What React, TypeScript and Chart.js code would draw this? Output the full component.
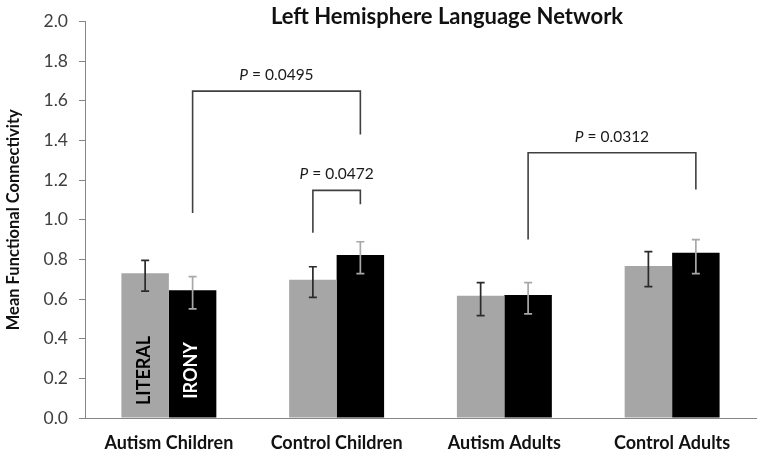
import React, { useEffect, useRef } from "react";
import { Chart, registerables } from "chart.js";

Chart.register(...registerables);

const categories = ["Autism Children", "Control Children", "Autism Adults", "Control Adults"];
const literalMeans = [0.73, 0.697, 0.617, 0.767];
const ironyMeans = [0.645, 0.822, 0.62, 0.834];
const literalUpper = [0.795, 0.763, 0.683, 0.839];
const literalLower = [0.64, 0.608, 0.516, 0.663];
const ironyUpper = [0.713, 0.889, 0.683, 0.9];
const ironyLower = [0.55, 0.728, 0.525, 0.728];
const yTickValues = [0, 0.2, 0.4, 0.6, 0.8, 1.0, 1.2, 1.4, 1.6, 1.8, 2.0];

// significance brackets: [categoryIndex, datasetIndex] of both ends
const bracketPValues = ["0.0495", "0.0472", "0.0312"];
const bracketFrom = [[0, 1], [1, 0], [2, 1]];
const bracketTo = [[1, 1], [1, 1], [3, 1]];
const bracketTop = [1.649, 1.148, 1.338];
const bracketFromBottom = [1.034, 0.934, 0.9];
const bracketToBottom = [1.43, 1.078, 1.153];

const seriesNames = ["LITERAL", "IRONY"];
const titleText = "Left Hemisphere Language Network";
const yAxisTitle = "Mean Functional Connectivity";

const FONT = "Lato, 'Open Sans', sans-serif";

const overlayPlugin = {
  id: "overlay",
  afterDatasetsDraw(chart: any) {
    const ctx = chart.ctx;
    const y = chart.scales.y;
    const uppers = [literalUpper, ironyUpper];
    const lowers = [literalLower, ironyLower];
    const errColors = ["#2a2a2a", "#a8a8a8"];
    ctx.save();
    // error bars
    for (let d = 0; d < 2; d++) {
      const meta = chart.getDatasetMeta(d);
      meta.data.forEach((bar: any, i: number) => {
        const x = bar.x;
        const yt = y.getPixelForValue(uppers[d][i]);
        const yb = y.getPixelForValue(lowers[d][i]);
        ctx.strokeStyle = errColors[d];
        ctx.lineWidth = 1.7;
        ctx.beginPath();
        ctx.moveTo(x, yt);
        ctx.lineTo(x, yb);
        ctx.moveTo(x - 4, yt);
        ctx.lineTo(x + 4, yt);
        ctx.moveTo(x - 4, yb);
        ctx.lineTo(x + 4, yb);
        ctx.stroke();
      });
    }
    // labels inside first group bars
    const labelColors = ["#000000", "#ffffff"];
    for (let d = 0; d < 2; d++) {
      const bar: any = chart.getDatasetMeta(d).data[0];
      ctx.save();
      ctx.translate(bar.x - 1, y.getPixelForValue(0.24));
      ctx.rotate(-Math.PI / 2);
      ctx.font = `bold 18px ${FONT}`;
      ctx.fillStyle = labelColors[d];
      ctx.textAlign = "center";
      ctx.textBaseline = "middle";
      ctx.fillText(seriesNames[d], 0, 0);
      ctx.restore();
    }
    // brackets
    for (let b = 0; b < bracketPValues.length; b++) {
      const x1 = (chart.getDatasetMeta(bracketFrom[b][1]).data[bracketFrom[b][0]] as any).x;
      const x2 = (chart.getDatasetMeta(bracketTo[b][1]).data[bracketTo[b][0]] as any).x;
      const yTop = y.getPixelForValue(bracketTop[b]);
      const y1 = y.getPixelForValue(bracketFromBottom[b]);
      const y2 = y.getPixelForValue(bracketToBottom[b]);
      ctx.strokeStyle = "#404040";
      ctx.lineWidth = 1.6;
      ctx.beginPath();
      ctx.moveTo(x1, y1);
      ctx.lineTo(x1, yTop);
      ctx.lineTo(x2, yTop);
      ctx.lineTo(x2, y2);
      ctx.stroke();
      // p label
      const italic = `italic 15.5px ${FONT}`;
      const normal = `15.5px ${FONT}`;
      const rest = " = " + bracketPValues[b];
      ctx.font = italic;
      const wP = ctx.measureText("P").width;
      ctx.font = normal;
      const wR = ctx.measureText(rest).width;
      const cx = (x1 + x2) / 2;
      const startX = cx - (wP + wR) / 2;
      const ty = yTop - 16;
      ctx.fillStyle = "#1a1a1a";
      ctx.textAlign = "left";
      ctx.textBaseline = "middle";
      ctx.font = italic;
      ctx.fillText("P", startX, ty);
      ctx.font = normal;
      ctx.fillText(rest, startX + wP, ty);
    }
    // title
    ctx.font = `bold 22px ${FONT}`;
    ctx.fillStyle = "#111";
    ctx.textAlign = "center";
    ctx.textBaseline = "middle";
    ctx.fillText(titleText, 447, 17);
    ctx.restore();
  },
};

export default function App() {
  const ref = useRef<HTMLCanvasElement | null>(null);
  useEffect(() => {
    if (!ref.current) return;
    const chart = new Chart(ref.current, {
      type: "bar",
      data: {
        labels: categories,
        datasets: [
          {
            label: seriesNames[0],
            data: literalMeans,
            backgroundColor: "#a6a6a6",
            categoryPercentage: 0.566,
            barPercentage: 1.0,
          },
          {
            label: seriesNames[1],
            data: ironyMeans,
            backgroundColor: "#000000",
            categoryPercentage: 0.566,
            barPercentage: 1.0,
          },
        ],
      },
      options: {
        animation: false,
        responsive: true,
        maintainAspectRatio: false,
        layout: { padding: { top: 19, right: 8, left: 0, bottom: 0 } },
        plugins: {
          legend: { display: false },
          tooltip: { enabled: false },
          title: { display: false },
        },
        scales: {
          x: {
            grid: { display: false, drawTicks: false },
            border: { display: true, color: "#868686", width: 1 },
            ticks: {
              color: "#111",
              font: { family: FONT, size: 18, weight: "bold" },
              padding: 14,
            },
            afterFit: (s: any) => {
              s.height = 40;
            },
          },
          y: {
            min: 0,
            max: 2.0,
            afterBuildTicks: (s: any) => {
              s.ticks = yTickValues.map((v) => ({ value: v }));
            },
            grid: {
              drawOnChartArea: false,
              drawTicks: true,
              tickLength: 6,
              color: "#868686",
            },
            border: { display: true, color: "#868686", width: 1 },
            ticks: {
              color: "#404040",
              font: { family: FONT, size: 17.5 },
              padding: 11,
              callback: (v: any) => Number(v).toFixed(1),
            },
            title: {
              display: true,
              text: yAxisTitle,
              color: "#111",
              font: { family: FONT, size: 16.5, weight: "bold" },
              padding: { top: 4, bottom: 0 },
            },
            afterFit: (s: any) => {
              s.width = 85;
            },
          },
        },
      },
      plugins: [overlayPlugin],
    });
    return () => chart.destroy();
  }, []);
  return (
    <div style={{ position: "absolute", left: 0, top: 0, width: 764, height: 458, background: "#fff" }}>
      <canvas ref={ref} />
    </div>
  );
}
